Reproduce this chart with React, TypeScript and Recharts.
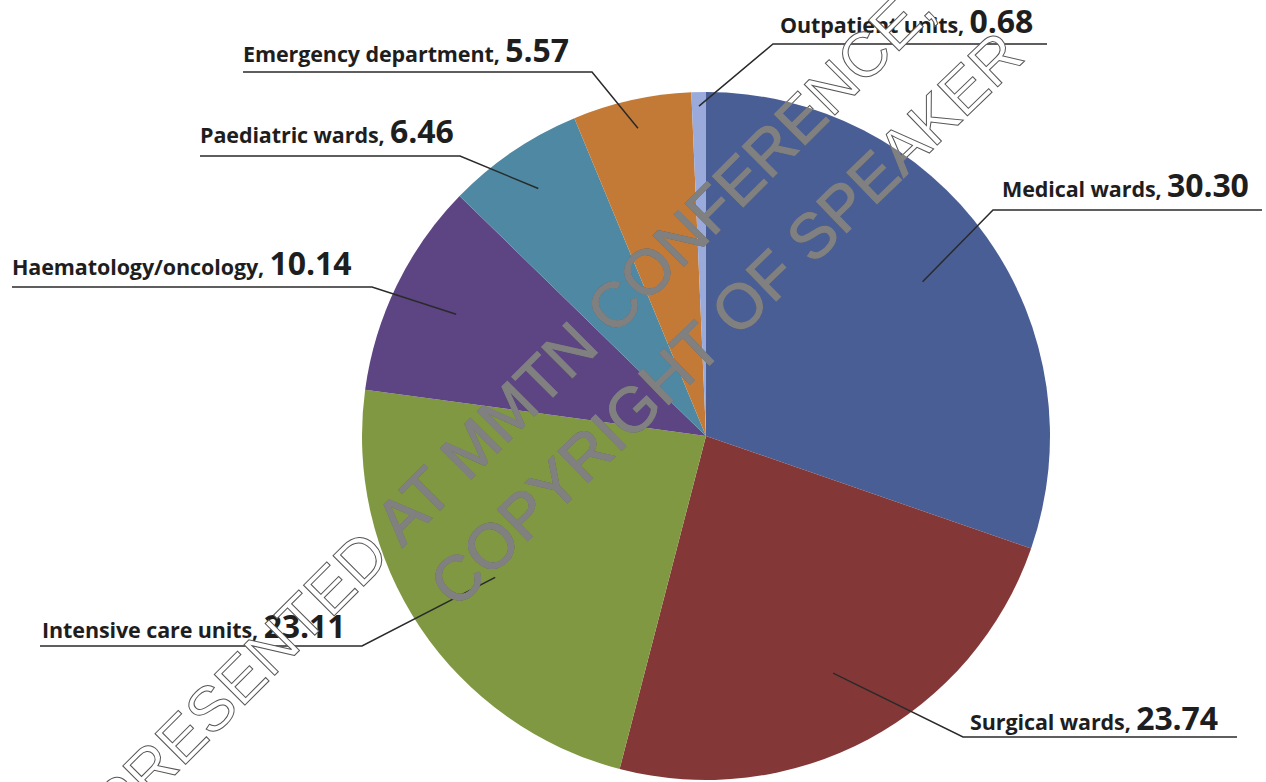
import React from 'react';
import { PieChart, Pie, Cell } from 'recharts';

const categories = [
  'Medical wards',
  'Surgical wards',
  'Intensive care units',
  'Haematology/oncology',
  'Paediatric wards',
  'Emergency department',
  'Outpatient units',
];
const values = [30.3, 23.74, 23.11, 10.14, 6.46, 5.57, 0.68];
const colors = ['#4a5e96', '#833837', '#7f9841', '#5d4482', '#4f88a3', '#c37a36', '#99aadb'];

// where each callout sits: leader starts at r (fraction of radius), elbow at x1, underline to x2
const labelLayout = [
  { r: 0.773, x1: 993, x2: 1262, y: 210, tx: 1002, base: 13 },
  { r: 0.782, x1: 963, x2: 1237, y: 737, tx: 970, base: 7 },
  { r: 0.738, x1: 362, x2: 40, y: 646, tx: 42, base: 8 },
  { r: 0.808, x1: 372, x2: 12, y: 287, tx: 12, base: 12 },
  { r: 0.869, x1: 460, x2: 200, y: 156, tx: 200, base: 13 },
  { r: 0.916, x1: 592, x2: 243, y: 72, tx: 243, base: 10 },
  { r: 0.959, x1: 773, x2: 1047, y: 44, tx: 780, base: 11 },
];

const CX = 706;
const CY = 436;
const R = 344;

const data = categories.map((name, i) => ({ name, value: values[i] }));

const RAD = Math.PI / 180;

const renderLabel = (props: any) => {
  const { cx, cy, midAngle, outerRadius, index } = props;
  const l = labelLayout[index];
  const r = outerRadius * l.r;
  const px = cx + r * Math.cos(-midAngle * RAD);
  const py = cy + r * Math.sin(-midAngle * RAD);
  return (
    <g key={`lbl-${index}`}>
      <polyline
        points={`${px},${py} ${l.x1},${l.y} ${l.x2},${l.y}`}
        fill="none"
        stroke="#2a2a2a"
        strokeWidth={1.5}
      />
      <text
        x={l.tx}
        y={l.y - l.base}
        fill="#1e1e1e"
        fontFamily="'Open Sans', sans-serif"
        fontWeight={700}
        letterSpacing={-0.1}
        style={{ whiteSpace: 'pre' }}
      >
        <tspan fontSize={21.5}>{categories[index] + ', '}</tspan>
        <tspan fontSize={32}>{values[index].toFixed(2)}</tspan>
      </text>
    </g>
  );
};

const wmLines = [
  { text: 'PRESENTED AT MMTN CONFERENCE,', x: 120, y: 830, a: -45 },
  { text: 'COPYRIGHT OF SPEAKER', x: 456, y: 610, a: -44 },
];

const Watermark = () => (
  <svg
    width={1266}
    height={782}
    style={{ position: 'absolute', left: 0, top: 0, pointerEvents: 'none' }}
  >
    <defs>
      <clipPath id="pieClip">
        <circle cx={CX} cy={CY} r={R} />
      </clipPath>
    </defs>
    {wmLines.map((w) => (
      <text
        key={'o' + w.text}
        x={w.x}
        y={w.y}
        transform={`rotate(${w.a} ${w.x} ${w.y})`}
        fontFamily="'Liberation Sans', Arial, sans-serif"
        fontSize={63}
        fill="#ffffff"
        stroke="#555"
        strokeWidth={1}
      >
        {w.text}
      </text>
    ))}
    <g clipPath="url(#pieClip)">
      {wmLines.map((w) => (
        <text
          key={'f' + w.text}
          x={w.x}
          y={w.y}
          transform={`rotate(${w.a} ${w.x} ${w.y})`}
          fontFamily="'Liberation Sans', Arial, sans-serif"
          fontSize={63}
          fill="#808080"
          stroke="#808080"
          strokeWidth={1.2}
        >
          {w.text}
        </text>
      ))}
    </g>
  </svg>
);

export default function App() {
  return (
    <div style={{ position: 'absolute', left: 0, top: 0, width: 1266, height: 782, background: '#fff' }}>
      <PieChart width={1266} height={782} margin={{ top: 0, right: 0, bottom: 0, left: 0 }}>
        <Pie
          data={data}
          dataKey="value"
          nameKey="name"
          cx={CX}
          cy={CY}
          outerRadius={R}
          startAngle={90}
          endAngle={-270}
          stroke="none"
          label={renderLabel}
          labelLine={false}
          isAnimationActive={false}
        >
          {data.map((d, i) => (
            <Cell key={d.name} fill={colors[i]} stroke="none" />
          ))}
        </Pie>
      </PieChart>
      <Watermark />
    </div>
  );
}
